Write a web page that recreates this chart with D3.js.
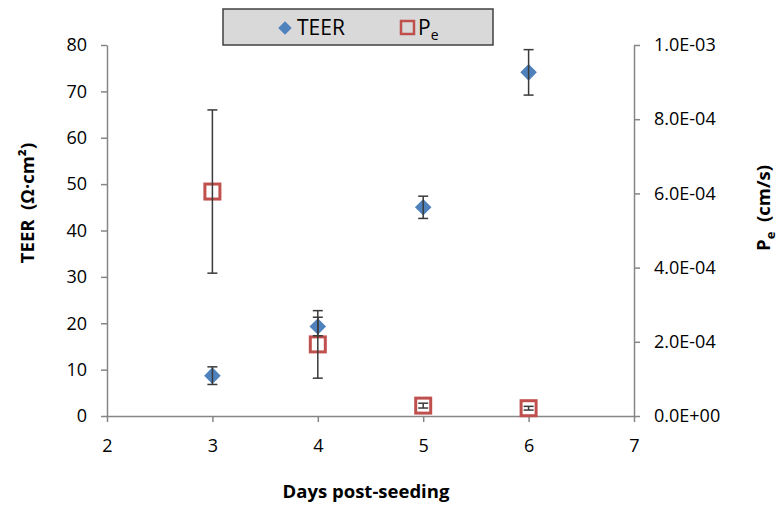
<!DOCTYPE html>
<html>
  <head>
    <script src="https://d3js.org/d3.v7.min.js"></script>
    <style>
      body { margin: 0; background: #fff; }
      text { font-family: "Open Sans", "Noto Sans", sans-serif; fill: #000; }
      .domain, .tick line { stroke: #868686; stroke-width: 1.5; }
    </style>
  </head>
  <body>
    <svg width="778" height="508"></svg>
    <script>
      // data
      var days = [3, 4, 5, 6];
      var teer = [8.7, 19.3, 45.0, 74.1];
      var teerErr = [1.9, 2.0, 2.4, 4.9];
      var pe = [6.05e-4, 1.93e-4, 2.8e-5, 2.1e-5];
      var peErr = [2.2e-4, 9.1e-5, 6.5e-6, 5e-6];
      var xTicks = [2, 3, 4, 5, 6, 7];
      var yTicks = [0, 10, 20, 30, 40, 50, 60, 70, 80];
      var y2Ticks = [0, 2e-4, 4e-4, 6e-4, 8e-4, 1e-3];

      var svg = d3.select("svg");
      var plotL = 107, plotR = 634, plotT = 45, plotB = 416;

      var x = d3.scaleLinear().domain([2, 7]).range([plotL, plotR]);
      var y = d3.scaleLinear().domain([0, 80]).range([plotB, plotT]);
      var y2 = d3.scaleLinear().domain([0, 1e-3]).range([plotB, plotT]);

      // axes
      svg.append("g")
          .attr("transform", "translate(0," + plotB + ")")
          .call(d3.axisBottom(x).tickValues(xTicks).tickFormat(d3.format("d"))
            .tickSize(6).tickSizeOuter(0).tickPadding(17))
          .call(g => g.selectAll("text").style("font-size", "18px"));
      svg.append("g")
          .attr("transform", "translate(" + plotL + ",0)")
          .call(d3.axisLeft(y).tickValues(yTicks).tickSize(6).tickSizeOuter(0).tickPadding(14))
          .call(g => g.selectAll("text").style("font-size", "18px"));
      svg.append("g")
          .attr("transform", "translate(" + plotR + ",0)")
          .call(d3.axisRight(y2).tickValues(y2Ticks).tickSize(6).tickSizeOuter(0).tickPadding(14)
            .tickFormat(d => d.toExponential(1).replace("e", "E").replace(/E([+-])(\d)$/, "E$10$2")))
          .call(g => g.selectAll("text").style("font-size", "18px"));

      // axis titles
      svg.append("text")
          .attr("x", 366).attr("y", 498)
          .attr("text-anchor", "middle")
          .style("font-size", "18.5px").style("font-weight", "bold")
          .text("Days post-seeding");
      svg.append("text")
          .attr("transform", "translate(34,203) rotate(-90)")
          .attr("text-anchor", "middle")
          .style("font-size", "18.5px").style("font-weight", "bold")
          .text("TEER\u00a0\u00a0(Ω·cm²)");
      var t2 = svg.append("text")
          .attr("transform", "translate(770,208) rotate(-90)")
          .attr("text-anchor", "middle")
          .style("font-size", "18.5px").style("font-weight", "bold");
      t2.append("tspan").text("P");
      t2.append("tspan").attr("dy", 5).style("font-size", "13px").text("e");
      t2.append("tspan").attr("dy", -5).text("\u00a0\u00a0(cm/s)");

      var blue = "#4F81BD", red = "#C0504D", errColor = "#3a3a3a";

      // TEER markers
      svg.append("g").selectAll("path")
          .data(days)
          .join("path")
          .attr("d", d3.symbol(d3.symbolDiamond2, 175))
          .attr("transform", (d, i) => "translate(" + x(d) + "," + y(teer[i]) + ")")
          .attr("fill", blue);

      // Pe markers
      svg.append("g").selectAll("rect")
          .data(days)
          .join("rect")
          .attr("x", d => x(d) - 7.5)
          .attr("y", (d, i) => y2(pe[i]) - 7.5)
          .attr("width", 15).attr("height", 15)
          .attr("fill", "none")
          .attr("stroke", red).attr("stroke-width", 3);

      // error bars
      function errBars(vals, errs, scale) {
        var g = svg.append("g").attr("stroke", errColor).attr("stroke-width", 1.5);
        days.forEach(function(d, i) {
          var cx = x(d), y1 = scale(vals[i] + errs[i]), y0 = scale(vals[i] - errs[i]);
          g.append("line").attr("x1", cx).attr("x2", cx).attr("y1", y1).attr("y2", y0);
          g.append("line").attr("x1", cx - 5).attr("x2", cx + 5).attr("y1", y1).attr("y2", y1);
          g.append("line").attr("x1", cx - 5).attr("x2", cx + 5).attr("y1", y0).attr("y2", y0);
        });
      }
      errBars(teer, teerErr, y);
      errBars(pe, peErr, y2);

      // legend
      var lg = svg.append("g");
      lg.append("rect")
          .attr("x", 223).attr("y", 9).attr("width", 270).attr("height", 36)
          .attr("fill", "#d9d9d9").attr("stroke", "#404040").attr("stroke-width", 1.5);
      lg.append("path")
          .attr("d", d3.symbol(d3.symbolDiamond2, 115))
          .attr("transform", "translate(285,28)")
          .attr("fill", blue);
      lg.append("text").attr("x", 297).attr("y", 35).style("font-size", "21px").text("TEER");
      lg.append("rect")
          .attr("x", 401).attr("y", 21).attr("width", 13).attr("height", 13)
          .attr("fill", "none").attr("stroke", red).attr("stroke-width", 2.5);
      var lt = lg.append("text").attr("x", 418).attr("y", 35).style("font-size", "21px");
      lt.append("tspan").text("P");
      lt.append("tspan").attr("dy", 5).style("font-size", "14px").text("e");
    </script>
  </body>
</html>
